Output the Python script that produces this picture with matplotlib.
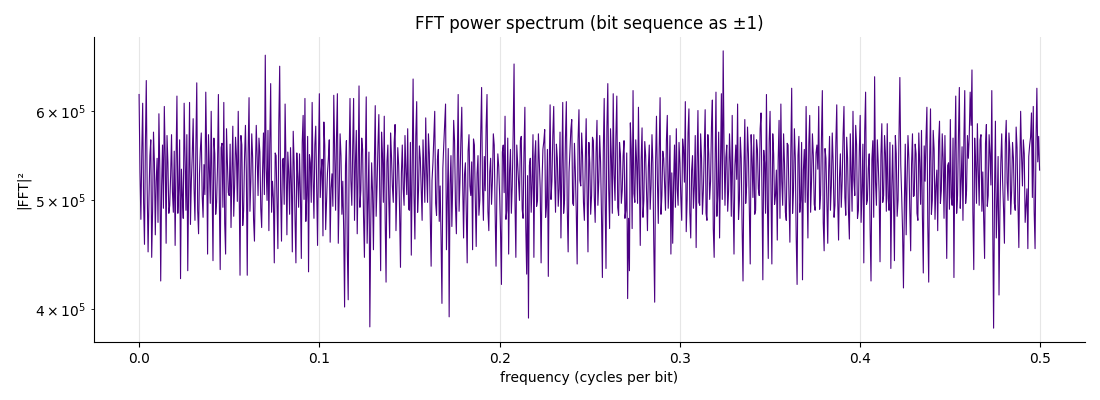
import numpy as np
import matplotlib
matplotlib.use('Agg')
import matplotlib.pyplot as plt

# spectrum values, in thousands
# power_k: samples at 0.000, 0.001, 0.002 ... cycles/bit
power_k = [
    621, 481, 610, 457, 639, 450, 548, 445, 575, 466,
    545, 597, 424, 560, 606, 458, 540, 495, 572, 488,
    456, 619, 512, 426, 505, 610, 490, 433, 611, 520,
    591, 480, 636, 467, 555, 505, 538, 624, 448, 535,
    600, 442, 550, 498, 621, 434, 562, 611, 448, 540,
    505, 473, 582, 515, 548, 600, 429, 560, 490, 583,
    429, 617, 520, 545, 460, 583, 505, 552, 473, 574,
    673, 500, 470, 635, 520, 440, 548, 453, 658, 460,
    545, 609, 466, 530, 557, 450, 540, 440, 525, 550,
    444, 595, 616, 505, 432, 540, 611, 482, 582, 456,
    622, 530, 465, 560, 498, 545, 459, 528, 620, 490,
    622, 505, 548, 520, 402, 565, 408, 616, 495, 616,
    540, 467, 632, 510, 555, 445, 618, 500, 386, 540,
    452, 607, 515, 596, 433, 550, 594, 423, 560, 463,
    548, 498, 584, 512, 537, 436, 560, 495, 530, 579,
    490, 447, 641, 462, 612, 510, 545, 480, 530, 592,
    498, 550, 437, 540, 600, 485, 555, 515, 405, 560,
    609, 500, 394, 548, 520, 565, 467, 621, 520, 605,
    463, 540, 440, 572, 505, 452, 560, 455, 548, 500,
    630, 480, 510, 621, 470, 545, 520, 560, 437, 550,
    505, 421, 560, 594, 490, 448, 555, 515, 661, 445,
    540, 500, 570, 482, 605, 430, 393, 545, 520, 445,
    565, 500, 540, 440, 555, 578, 495, 428, 608, 520,
    606, 488, 545, 512, 463, 611, 500, 612, 450, 555,
    590, 495, 530, 439, 602, 515, 548, 480, 591, 450,
    540, 505, 565, 478, 589, 520, 540, 427, 616, 435,
    635, 472, 545, 622, 500, 619, 485, 550, 510, 565,
    490, 409, 433, 555, 626, 498, 540, 605, 456, 580,
    500, 548, 470, 560, 515, 540, 406, 594, 477, 617,
    505, 545, 490, 595, 520, 448, 458, 560, 579, 495,
    540, 480, 555, 612, 500, 603, 463, 548, 515, 454,
    601, 495, 545, 510, 602, 480, 550, 520, 614, 445,
    624, 505, 463, 622, 679, 495, 560, 510, 540, 595,
    448, 560, 609, 500, 545, 424, 590, 515, 550, 439,
    545, 572, 490, 555, 505, 598, 425, 540, 621, 444,
    600, 439, 550, 505, 461, 589, 609, 495, 540, 480,
    560, 459, 629, 510, 545, 421, 570, 500, 425, 555,
    606, 463, 595, 520, 548, 490, 560, 606, 505, 626,
    451, 545, 458, 570, 515, 540, 495, 608, 461, 550,
    520, 606, 485, 545, 462, 530, 600, 505, 560, 490,
    595, 510, 440, 624, 500, 550, 424, 565, 644, 495,
    540, 441, 585, 505, 550, 585, 490, 435, 560, 442,
    550, 500, 643, 505, 418, 561, 520, 545, 451, 573,
    505, 550, 480, 540, 577, 431, 520, 605, 423, 603,
    500, 555, 515, 470, 588, 510, 545, 571, 444, 540,
    590, 495, 427, 619, 505, 630, 520, 480, 626, 510,
    545, 624, 653, 434, 540, 585, 495, 572, 530, 444,
    584, 505, 550, 626, 385, 588, 495, 412, 540, 520,
    458, 589, 500, 555, 510, 545, 490, 557, 454, 600,
    515, 550, 495, 453, 560, 598, 606, 453, 629, 570,
]

# power_mid_k: samples at 0.0005, 0.0015, 0.0025 ... cycles/bit
power_mid_k = [
    530, 552, 498, 561, 512, 503, 566, 489, 541, 520,
    478, 534, 515, 492, 547, 571, 487, 526, 509, 553,
    541, 487, 566, 533, 482, 545, 572, 518, 476, 549,
    512, 559, 490, 528, 574, 483, 506, 547, 572, 497,
    519, 568, 486, 535, 503, 557, 493, 477, 579, 508,
    561, 530, 484, 569, 499, 517, 571, 475, 546, 529,
    552, 489, 573, 481, 527, 546, 568, 492, 531, 506,
    534, 577, 562, 488, 502, 551, 497, 584, 511, 543,
    496, 538, 552, 486, 517, 576, 482, 551, 493, 506,
    563, 501, 479, 570, 549, 498, 523, 560, 517, 544,
    503, 544, 587, 471, 529, 566, 513, 494, 551, 569,
    458, 573, 486, 470, 537, 452, 542, 521, 558, 480,
    577, 528, 493, 568, 484, 539, 458, 552, 475, 509,
    538, 484, 559, 507, 575, 498, 482, 541, 501, 574,
    515, 563, 470, 557, 489, 528, 512, 571, 506, 491,
    563, 534, 505, 571, 488, 559, 512, 566, 498, 531,
    573, 486, 521, 568, 497, 544, 479, 463, 534, 583,
    452, 556, 517, 474, 589, 495, 540, 489, 566, 518,
    527, 488, 553, 515, 541, 567, 501, 528, 485, 572,
    512, 547, 581, 489, 530, 496, 573, 488, 513, 536,
    469, 552, 508, 481, 568, 531, 487, 572, 499, 560,
    522, 565, 491, 551, 473, 526, 537, 488, 572, 547,
    494, 573, 512, 518, 564, 483, 555, 531, 501, 571,
    527, 561, 494, 575, 529, 487, 568, 493, 530, 578,
    497, 562, 489, 566, 521, 574, 498, 541, 508, 563,
    486, 569, 503, 552, 495, 571, 485, 553, 503, 580,
    512, 579, 487, 527, 571, 493, 563, 497, 548, 482,
    551, 482, 586, 472, 507, 566, 497, 528, 543, 483,
    564, 509, 535, 491, 572, 457, 541, 521, 553, 486,
    553, 516, 565, 492, 571, 529, 519, 493, 512, 563,
    503, 567, 519, 469, 574, 488, 532, 492, 571, 538,
    498, 573, 486, 552, 487, 572, 501, 581, 472, 538,
    484, 575, 534, 501, 552, 546, 489, 573, 484, 502,
    537, 522, 481, 569, 473, 534, 497, 581, 493, 572,
    503, 486, 566, 512, 579, 512, 554, 487, 499, 563,
    511, 573, 496, 532, 543, 482, 520, 573, 488, 562,
    503, 551, 487, 579, 464, 548, 488, 563, 532, 498,
    518, 562, 488, 573, 496, 551, 533, 491, 567, 478,
    556, 497, 531, 490, 574, 483, 563, 503, 524, 493,
    571, 503, 569, 488, 573, 489, 521, 583, 482, 552,
    478, 561, 576, 496, 534, 471, 544, 483, 519, 566,
    508, 549, 498, 571, 489, 502, 563, 511, 497, 571,
    484, 571, 538, 470, 497, 466, 571, 492, 539, 504,
    561, 487, 574, 496, 485, 559, 568, 474, 541, 486,
    577, 481, 532, 564, 497, 573, 482, 509, 537, 491,
    503, 568, 553, 487, 571, 492, 558, 564, 497, 571,
    571, 583, 488, 568, 497, 532, 566, 489, 481, 562,
    494, 572, 516, 478, 506, 463, 547, 488, 573, 492,
    562, 519, 574, 486, 563, 497, 581, 497, 532, 548,
    566, 478, 512, 547, 569, 503, 489, 563, 541, 532,
]
freq_step = 0.001

x_a = np.arange(len(power_k)) * freq_step
x_b = np.arange(len(power_mid_k)) * freq_step + freq_step / 2
freqs = np.concatenate([x_a, x_b])
power = np.concatenate([power_k, power_mid_k]) * 1000.0
order = np.argsort(freqs)
freqs, power = freqs[order], power[order]

fig, ax = plt.subplots(figsize=(11, 4), dpi=100)
ax.plot(freqs, power, color='indigo', linewidth=0.8)
ax.set_yscale('log')
ax.grid(True, axis='x', color='#e6e6e6', linewidth=0.8)
ax.set_axisbelow(True)
ax.spines['top'].set_visible(False)
ax.spines['right'].set_visible(False)

ax.set_title('FFT power spectrum (bit sequence as ±1)')
ax.set_xlabel('frequency (cycles per bit)')
ax.set_ylabel('|FFT|²')

fig.subplots_adjust(left=0.0855, right=0.986, top=0.9075, bottom=0.145)
fig.savefig('out.png')
